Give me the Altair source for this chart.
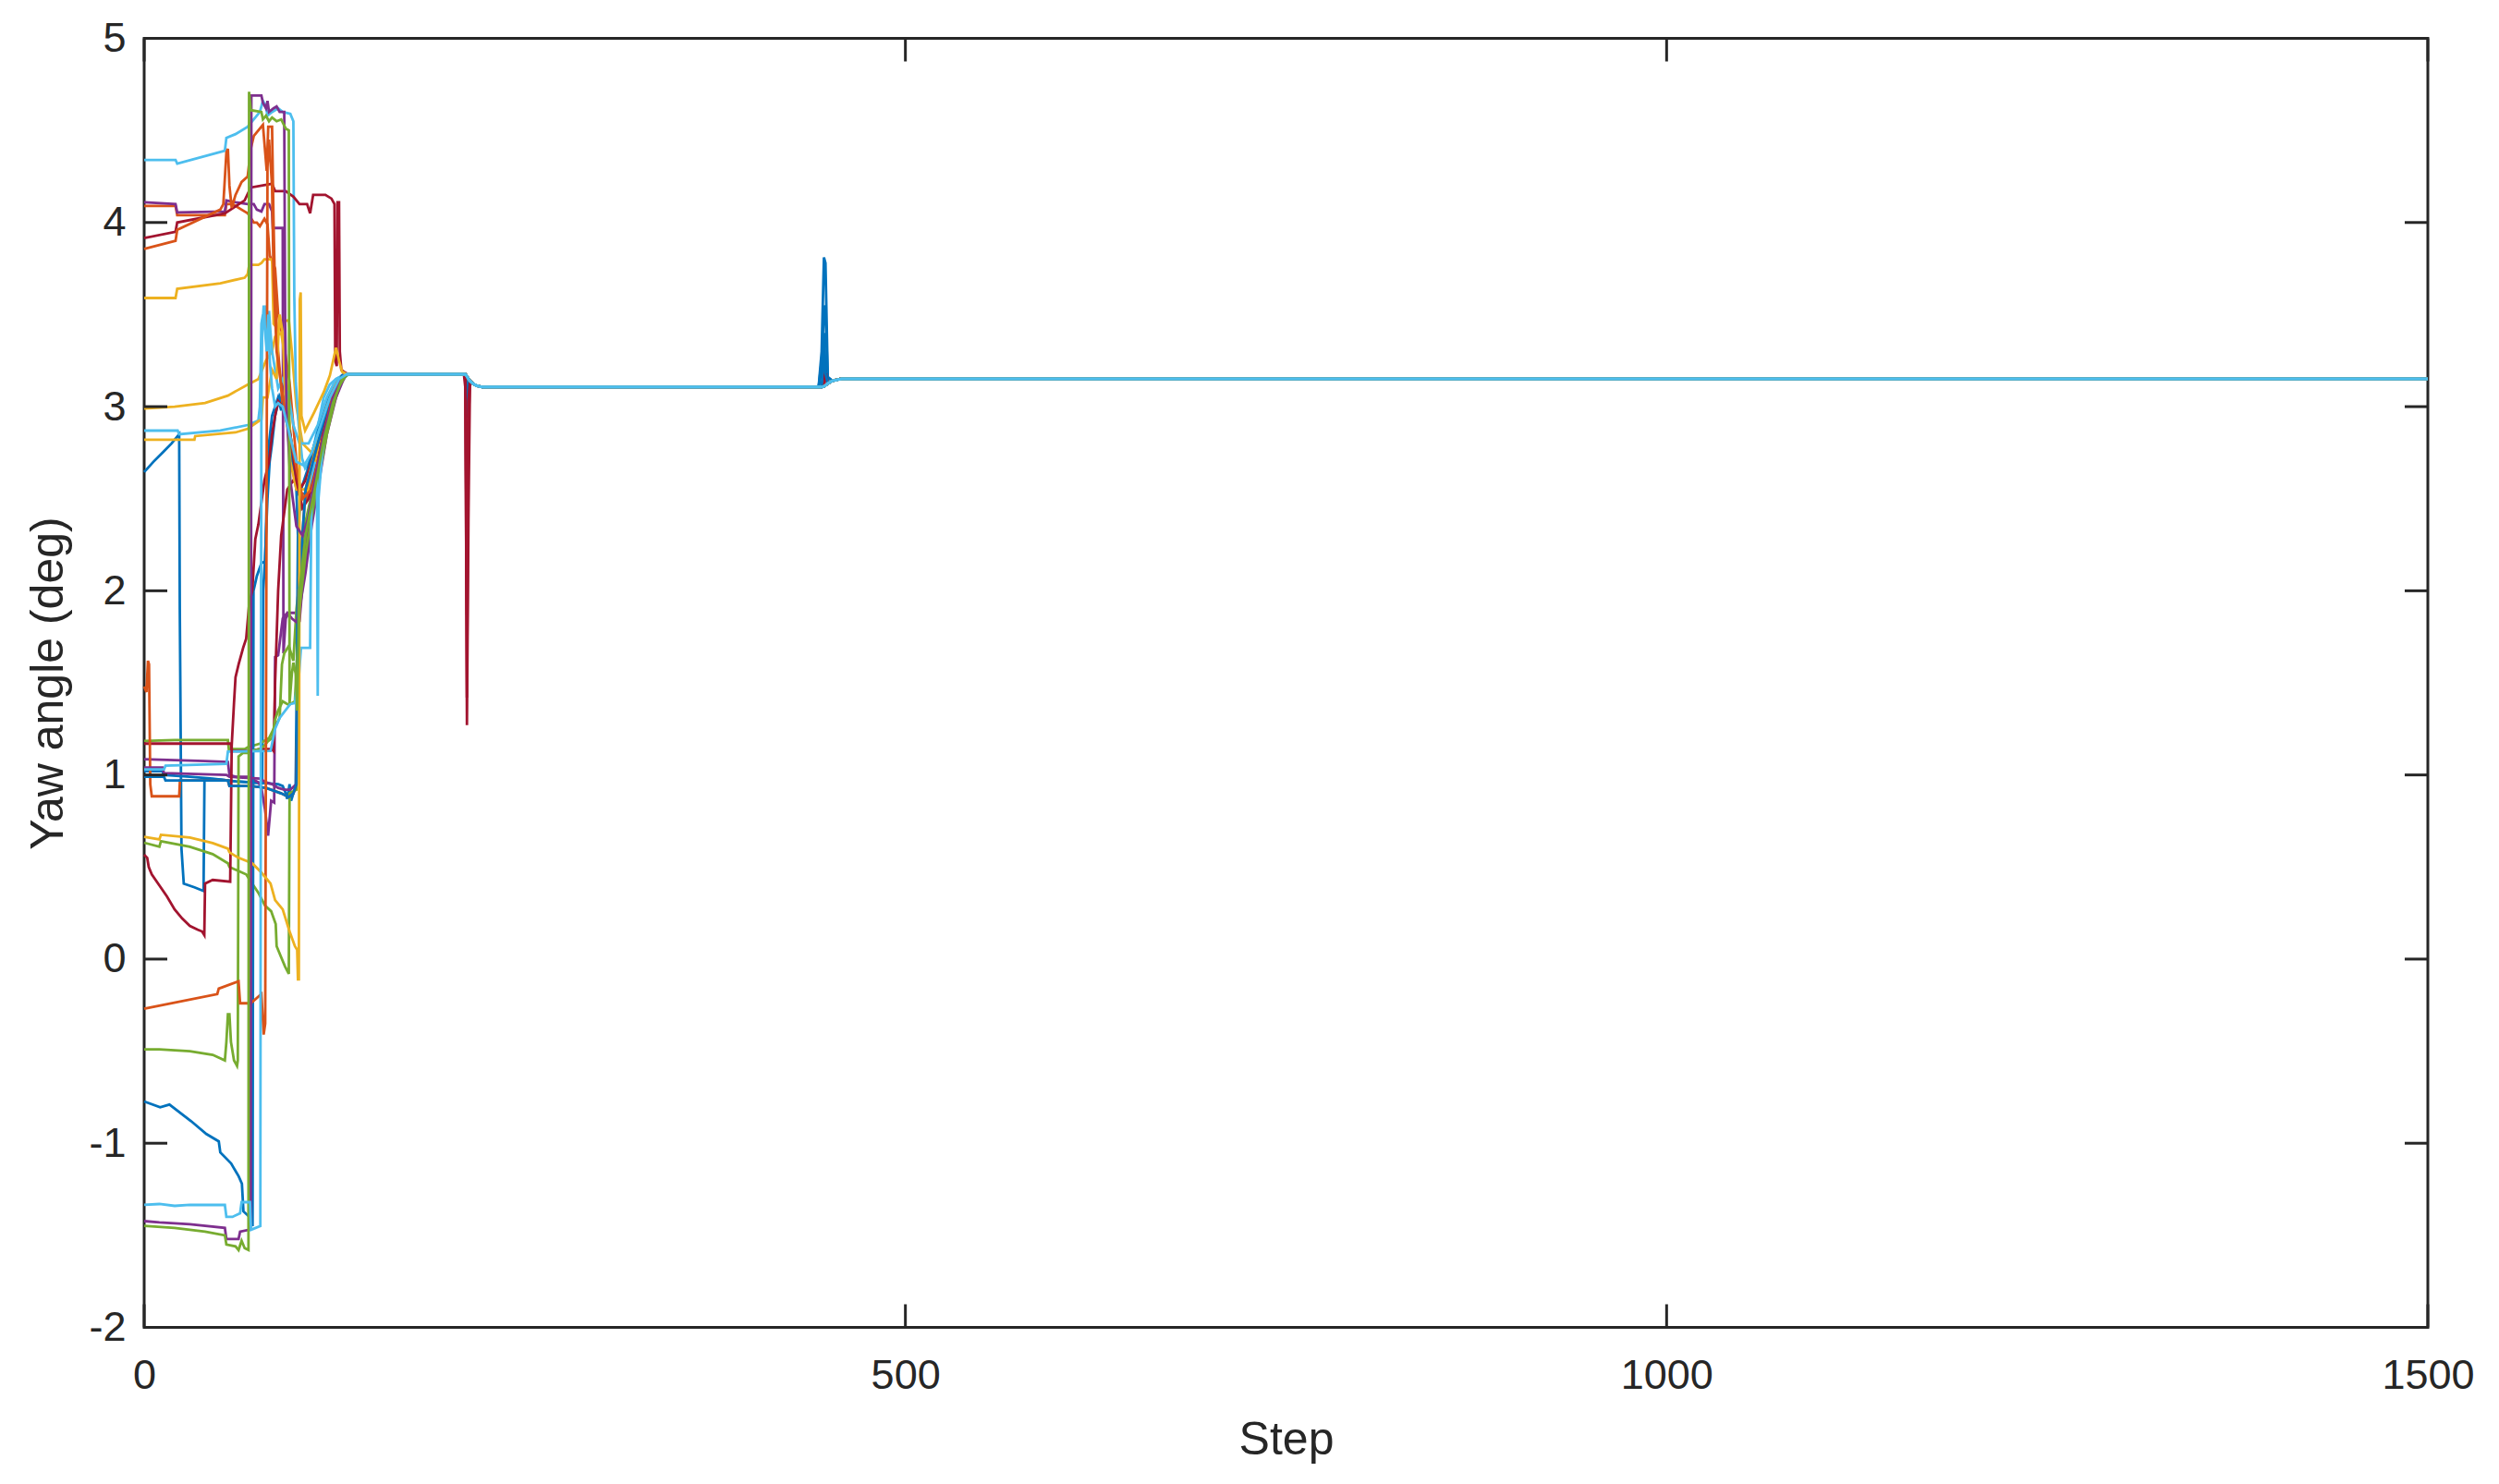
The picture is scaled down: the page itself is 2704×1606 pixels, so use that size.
import altair as alt
import pandas as pd

COLORS = ["#0072BD", "#D95319", "#EDB120", "#7E2F8E", "#77AC30", "#4DBEEE", "#A2142F"]

# ---- early (chaotic) part of each trajectory: (step, yaw) ----
B1 = [(0, 2.645), (6, 2.70), (12, 2.75), (18, 2.80), (23, 2.85), (23.4, 1.9), (24.5, 0.6), (26, 0.41),
      (33, 0.39), (39, 0.37), (39.6, 0.97), (50, 0.975), (60, 0.965), (70, 0.96), (77.5, 0.955),
      (78.2, 2.0), (79.3, 2.16), (81, 2.5), (82.4, 2.7), (84, 2.8), (86, 2.95), (88, 3.02), (89, 3.05),
      (90.5, 3.0), (91.5, 3.06), (93, 2.97), (94, 3.0), (96, 2.85), (98, 2.72), (100, 2.55), (103, 2.5),
      (107, 2.55), (112, 2.72), (118, 2.95), (124, 3.1), (130, 3.17), (134, 3.176)]
O1 = [(0, 4.09), (20.6, 4.09), (21.7, 4.04), (53, 4.04), (54, 4.10), (58, 4.10), (66, 4.06), (68, 4.05),
      (72, 4.0), (74, 4.0), (76, 3.98), (79, 4.02), (81, 3.99), (82.5, 3.82), (86, 3.75), (88, 3.5),
      (91, 3.38), (95.5, 3.13), (99, 2.8), (101, 2.6), (103.5, 2.45), (106, 2.48), (110, 2.62),
      (116, 2.85), (122, 3.05), (128, 3.15), (133, 3.176)]
Y1 = [(0, 3.59), (20.6, 3.59), (21.7, 3.64), (50, 3.67), (66, 3.70), (68, 3.72), (69, 3.77), (75, 3.77),
      (77, 3.78), (79, 3.80), (84, 3.80), (85, 3.45), (88, 3.42), (91, 3.46), (95, 3.47), (97, 3.3),
      (100, 3.0), (104, 2.8), (110, 2.75), (118, 2.95), (125, 3.12), (132, 3.176)]
P1 = [(0, 4.11), (20.6, 4.10), (21.7, 4.055), (53, 4.06), (54, 4.12), (60, 4.11), (68, 4.10), (72, 4.10),
      (74, 4.07), (77, 4.06), (79, 4.10), (82, 4.10), (84, 4.06), (84.5, 3.97), (91, 3.97), (91.5, 1.66),
      (93, 1.85), (95, 1.88), (100, 1.88), (102, 1.83), (104, 2.03), (108, 2.28), (112, 2.5), (116, 2.7),
      (121, 2.95), (126, 3.1), (131, 3.17), (134, 3.176)]
G1 = [(0, 1.184), (20, 1.19), (55, 1.19), (55.6, 1.14), (66, 1.14), (68, 1.15), (72, 1.16), (76, 1.17),
      (80, 1.19), (82, 1.2), (85, 1.25), (89, 1.31), (90.5, 1.6), (92, 1.66), (95, 1.7), (98, 1.62),
      (100, 1.9), (104, 2.2), (108, 2.4), (112, 2.55), (118, 2.8), (124, 3.0), (130, 3.15), (134, 3.176)]
L1 = [(0, 4.34), (20.6, 4.34), (21.7, 4.32), (53, 4.39), (54, 4.46), (60, 4.48), (68, 4.52), (74, 4.58),
      (76, 4.60), (78, 4.66), (80, 4.63), (81, 4.58), (84, 4.60), (88, 4.62), (91, 4.6), (96, 4.59),
      (98, 4.55), (98.6, 3.6), (99.6, 3.13), (101.5, 2.9), (103.7, 2.72), (105.7, 2.666), (109.8, 2.72),
      (113.8, 2.88), (117.9, 3.05), (121.9, 3.12), (126, 3.15), (132, 3.176)]
R1 = [(0, 3.915), (20.6, 3.95), (21.7, 4.0), (53, 4.05), (66, 4.12), (70, 4.19), (84, 4.21), (86, 4.17),
      (93, 4.17), (98, 4.14), (102, 4.10), (107, 4.10), (109, 4.05), (111, 4.15), (119, 4.15), (123, 4.13),
      (125, 4.10), (125.5, 3.25), (126.5, 3.22), (127, 4.11), (128, 4.11), (128.5, 3.3), (129.5, 3.2),
      (131, 3.19), (134, 3.176)]
B2 = [(0, 1.02), (12, 1.02), (13, 1.0), (30, 0.99), (45, 0.98), (60, 0.965), (70, 0.96), (80, 0.955),
      (88, 0.95), (91, 0.94), (93, 0.90), (94, 0.87), (95.5, 0.95), (96.5, 0.86), (98, 0.9), (99.5, 0.94),
      (100.2, 1.5), (101, 2.3), (103, 2.55), (107, 2.65), (112, 2.8), (118, 2.98), (124, 3.1), (130, 3.17),
      (134, 3.176)]
O2 = [(0, 3.857), (20.6, 3.9), (21.7, 3.96), (50, 4.07), (52, 4.1), (54, 4.38), (55, 4.40), (56, 4.2),
      (57.5, 4.08), (60, 4.15), (64, 4.22), (68, 4.25), (70, 4.4), (72, 4.47), (78, 4.53), (80.5, 4.28),
      (81.5, 4.52), (84, 4.52), (85, 4.0), (86, 3.6), (88, 3.3), (91, 3.0), (94, 2.9), (98, 2.7),
      (102, 2.55), (106, 2.5), (112, 2.7), (118, 2.95), (125, 3.12), (132, 3.176)]
Y2 = [(0, 2.99), (20, 3.0), (40, 3.02), (55, 3.06), (68, 3.12), (75, 3.15), (80, 3.25), (84, 3.30),
      (86, 3.38), (90, 3.40), (92, 3.3), (94, 3.1), (96, 2.85), (100, 2.6), (104, 2.5), (108, 2.55),
      (114, 2.75), (120, 2.95), (126, 3.1), (132, 3.176)]
P2 = [(0, 1.085), (20, 1.08), (40, 1.075), (55, 1.07), (56, 1.0), (60, 0.99), (68, 0.99), (75, 0.96),
      (77, 0.93), (79.4, 0.81), (81.4, 0.67), (83.4, 0.86), (85.4, 0.85), (86, 1.64), (88, 1.65),
      (91, 1.85), (94, 1.88), (97, 1.85), (100, 1.83), (102, 1.9), (106, 2.1), (110, 2.35), (115, 2.6),
      (120, 2.85), (126, 3.05), (132, 3.17), (134, 3.176)]
G2 = [(0, 0.632), (10, 0.61), (11, 0.64), (30, 0.61), (45, 0.57), (55, 0.52), (56, 0.50), (67, 0.46),
      (75, 0.36), (79.4, 0.29), (83.4, 0.26), (86.4, 0.19), (87, 0.07), (89.5, 0.02), (92.5, -0.04),
      (95, -0.08), (95.5, 0.9), (100, 0.92), (101.5, 2.0), (104, 2.3), (108, 2.45), (112, 2.6),
      (118, 2.85), (124, 3.03), (130, 3.15), (134, 3.176)]
L2 = [(0, 2.87), (22, 2.87), (23, 2.85), (50, 2.87), (68, 2.9), (75, 2.925), (76, 3.0), (77, 3.45),
      (78, 3.5), (79, 3.42), (80, 3.55), (81, 3.35), (82, 3.52), (83, 3.4), (84, 3.3), (86, 3.2),
      (88, 3.1), (91, 3.15), (95, 3.05), (98, 2.9), (102, 2.8), (108, 2.8), (114, 2.9), (120, 3.05),
      (126, 3.15), (132, 3.176)]
R2 = [(0, 1.17), (20, 1.17), (55, 1.17), (57, 1.17), (57.5, 1.13), (60, 1.13), (70, 1.13), (76, 1.14),
      (84, 1.14), (85, 1.13), (86, 1.5), (88, 2.0), (90, 2.3), (94, 2.55), (98, 2.6), (102, 2.55),
      (106, 2.6), (112, 2.75), (118, 2.9), (124, 3.05), (130, 3.16), (133, 3.176)]
B3 = [(0, -0.773), (10.5, -0.805), (16.6, -0.79), (30.8, -0.88), (40.9, -0.95), (49, -0.99), (50, -1.05),
      (57.1, -1.11), (62.1, -1.18), (64.2, -1.22), (65.2, -1.37), (69.2, -1.40), (71.2, -1.45),
      (71.8, 2.0), (74, 2.08), (77, 2.15), (79.5, 2.16), (80.5, 2.5), (82, 2.8), (84, 2.95), (86, 3.0),
      (88, 3.05), (90, 2.98), (92, 3.04), (94, 2.95), (96, 2.82), (98, 2.65), (100, 2.55), (101, 2.3),
      (102, 2.1), (105, 2.25), (110, 2.5), (116, 2.78), (122, 3.0), (128, 3.13), (134, 3.176)]
O3 = [(0, 1.48), (1.5, 1.45), (2.5, 1.62), (3.2, 1.6), (4, 0.95), (5, 0.884), (23, 0.884), (23.5, 0.97),
      (55, 0.97), (56, 0.94), (70, 0.94), (80, 0.93), (90, 0.9), (95, 0.88), (98, 0.9), (100, 0.95),
      (101.5, 2.0), (106, 2.55), (114, 2.8), (122, 3.05), (130, 3.17), (133, 3.176)]
Y3 = [(0, 2.82), (33, 2.82), (33.5, 2.84), (60, 2.86), (68, 2.88), (75, 2.92), (77, 2.93), (78, 3.05),
      (81, 3.05), (84, 3.2), (87, 3.15), (88.5, 3.45), (89, 3.5), (91, 3.4), (93, 3.0), (96, 2.7),
      (100, 2.55), (106, 2.55), (112, 2.75), (120, 3.0), (126, 3.12), (132, 3.176)]
P3 = [(0, 1.04), (12, 1.04), (13, 1.01), (54, 1.0), (56, 0.99), (76, 0.98), (80, 0.96), (84, 0.95),
      (88, 0.93), (92, 0.92), (96, 0.92), (100, 0.95), (101.5, 1.8), (104, 2.1), (110, 2.45), (118, 2.8),
      (126, 3.08), (133, 3.176)]
G3 = [(0, -0.49), (10, -0.49), (30, -0.5), (45, -0.52), (53, -0.55), (54, -0.45), (55, -0.30),
      (56, -0.30), (57, -0.45), (59, -0.55), (61, -0.58), (61.5, -0.55), (62, 1.10), (65, 1.12),
      (68, 1.12), (70, 1.13), (76, 1.14), (79, 1.16), (81, 1.18), (84, 1.2), (86, 1.3), (88, 1.35),
      (91, 1.4), (95, 1.38), (99, 1.4), (102, 1.9), (106, 2.2), (112, 2.5), (120, 2.85), (127, 3.1),
      (133, 3.176)]
L3 = [(0, 1.03), (13, 1.03), (14, 1.05), (54, 1.06), (55, 1.127), (83, 1.13), (86, 1.25), (89, 1.31),
      (96, 1.385), (99, 1.39), (100.5, 1.5), (101.5, 1.52), (103, 1.69), (109, 1.69), (110, 2.6),
      (112, 2.7), (113.5, 2.6), (114, 1.43), (114.5, 2.5), (118, 2.85), (124, 3.05), (130, 3.16),
      (133, 3.176)]
R3 = [(0, 0.567), (2, 0.55), (3, 0.50), (5, 0.46), (10, 0.40), (15, 0.34), (20, 0.27), (25, 0.22),
      (30, 0.18), (35, 0.16), (38, 0.15), (39.5, 0.13), (40, 0.41), (45, 0.43), (56.5, 0.42),
      (57.5, 1.16), (59, 1.39), (60, 1.53), (62, 1.6), (65, 1.69), (67, 1.74), (69, 1.93), (71, 2.0),
      (73, 2.28), (75, 2.36), (77, 2.48), (79, 2.6), (82, 2.7), (84, 2.85), (86, 2.95), (88, 3.03),
      (91, 3.0), (96, 2.85), (100, 2.6), (104, 2.45), (108, 2.5), (114, 2.7), (120, 2.95), (126, 3.1),
      (132, 3.176)]
B4 = [(0, 0.99), (13, 0.99), (14, 0.97), (55, 0.97), (56, 0.94), (70, 0.94), (80, 0.93), (90, 0.9),
      (95, 0.88), (98, 0.9), (100, 0.95), (101.5, 2.0), (106, 2.55), (114, 2.8), (122, 3.05), (130, 3.17),
      (133, 3.176)]
O4 = [(0, -0.27), (48, -0.19), (49, -0.16), (62, -0.12), (63, -0.24), (70, -0.24), (77, -0.19),
      (78.5, -0.41), (79.5, -0.35), (80.3, 2.15), (81, 4.3), (82, 4.45), (84, 4.2), (85, 3.7), (87, 3.3),
      (92, 3.0), (98, 2.75), (104, 2.5), (110, 2.55), (118, 2.85), (125, 3.1), (132, 3.176)]
Y4 = [(0, 0.664), (10, 0.65), (11, 0.675), (30, 0.66), (45, 0.63), (55, 0.60), (56, 0.58), (62, 0.55),
      (71, 0.52), (77, 0.47), (83, 0.41), (86, 0.32), (91, 0.27), (95.5, 0.15), (99, 0.07), (100.5, 0.05),
      (101, -0.11), (101.6, -0.11), (102.2, 3.58), (102.8, 3.62), (103.3, 2.95), (105.7, 2.87),
      (111.7, 2.97), (118, 3.08), (122, 3.17), (126, 3.32), (128, 3.25), (130, 3.19), (133, 3.176)]
P4 = [(0, -1.423), (10, -1.43), (30, -1.44), (53, -1.46), (54, -1.52), (62, -1.52), (63, -1.48),
      (69, -1.47), (70, -1.45), (70.4, 4.69), (77, 4.69), (78, 4.65), (80, 4.62), (81, 4.66), (82, 4.6),
      (85, 4.62), (87, 4.63), (89, 4.6), (92, 4.6), (92.6, 3.45), (93.5, 3.0), (96, 2.6), (100, 2.35),
      (104, 2.3), (108, 2.4), (112, 2.6), (118, 2.85), (124, 3.05), (130, 3.16), (134, 3.176)]
G4 = [(0, -1.449), (20, -1.46), (40, -1.48), (53, -1.50), (54, -1.55), (60, -1.56), (62, -1.58),
      (64, -1.53), (66, -1.57), (68.5, -1.58), (68.9, 4.71), (70, 4.61), (77, 4.60), (78, 4.56),
      (80, 4.58), (82, 4.55), (84, 4.57), (87, 4.55), (90, 4.56), (93, 4.51), (95, 4.50), (95.5, 1.39),
      (97, 1.55), (98, 1.61), (99.5, 1.55), (100.5, 1.35), (102, 2.0), (106, 2.3), (112, 2.55),
      (118, 2.82), (124, 3.02), (130, 3.15), (134, 3.176)]
L4 = [(0, -1.335), (10, -1.33), (20, -1.34), (30, -1.335), (53, -1.335), (54, -1.40), (58, -1.40),
      (63, -1.38), (64, -1.32), (69.5, -1.32), (70.2, -1.47), (76.3, -1.45), (76.6, 1.0), (77, 3.0),
      (77.5, 3.40), (78.5, 3.55), (79.5, 3.4), (80.5, 3.3), (81.5, 3.5), (82.5, 3.25), (84, 3.1),
      (86, 3.0), (88, 3.02), (91, 3.0), (94, 2.9), (97, 2.8), (100, 2.7), (105, 2.68), (110, 2.75),
      (116, 2.9), (122, 3.05), (128, 3.15), (133, 3.176)]

# drawing order (later on top), colours cycle through COLORS
ORDER = ["B1", "O1", "Y1", "P1", "G1", "L1", "R1",
         "B2", "O2", "Y2", "P2", "G2", "L2", "R2",
         "B3", "O3", "Y3", "P3", "G3", "L3", "R3",
         "B4", "O4", "Y4", "P4", "G4", "L4"]
HEADS = {"B1": B1, "O1": O1, "Y1": Y1, "P1": P1, "G1": G1, "L1": L1, "R1": R1,
         "B2": B2, "O2": O2, "Y2": Y2, "P2": P2, "G2": G2, "L2": L2, "R2": R2,
         "B3": B3, "O3": O3, "Y3": Y3, "P3": P3, "G3": G3, "L3": L3, "R3": R3,
         "B4": B4, "O4": O4, "Y4": Y4, "P4": P4, "G4": G4, "L4": L4}

# ---- settled part shared by all runs ----
tail_steps = [135, 210, 211, 212, 213, 214, 216, 218, 222, 443, 445, 446.5, 447.5, 449, 452, 458, 1500]
tail_base = [3.176, 3.176, 3.176, 3.165, 3.15, 3.14, 3.125, 3.115, 3.106, 3.106, 3.106, 3.11, 3.115,
             3.125, 3.14, 3.151, 3.151]
tail_over = {
    "R1": {212: 1.27, 213: 2.39, 447.5: 3.22},
    "R2": {211: 3.1, 212: 1.42, 213: 2.91, 447.5: 3.2},
    "R3": {212: 1.87, 213: 3.03, 447.5: 3.18},
    "B1": {212: 2.94, 445: 3.3, 446.5: 3.81, 447.5: 3.78, 449: 3.16},
    "B2": {212: 3.03, 445: 3.2, 446.5: 3.55, 447.5: 3.5, 449: 3.16},
    "B3": {445: 3.25, 446.5: 3.4, 447.5: 3.2},
    "B4": {446.5: 3.3, 447.5: 3.18},
}

xticks = [0, 500, 1000, 1500]
yticks = [-2, -1, 0, 1, 2, 3, 4, 5]

rows = []
ids = []
for i, name in enumerate(ORDER):
    sid = f"s{i + 1:02d}"
    ids.append(sid)
    for s, v in HEADS[name]:
        rows.append({"id": sid, "step": s, "value": v})
    ov = tail_over.get(name, {})
    for s, v in zip(tail_steps, tail_base):
        rows.append({"id": sid, "step": s, "value": ov.get(s, v)})
df = pd.DataFrame(rows)

W, H = 2471, 1395
TL = 25
INK = "#262626"
FONT = "Liberation Sans"

xscale = alt.Scale(domain=[0, 1500], nice=False, zero=False)
yscale = alt.Scale(domain=[-2, 5], nice=False, zero=False)
xaxis = alt.Axis(values=xticks, title="Step", labelPadding=30, labelFlush=False,
                 titleY=136.5, titleBaseline="alphabetic", labelExpr="'' + datum.value")
yaxis = alt.Axis(values=yticks, title="Yaw angle (deg)", labelPadding=20, labelFlush=False,
                 titleX=-89, titleY=H / 2, titleAngle=-90, titleBaseline="alphabetic",
                 labelExpr="'' + datum.value")

lines = alt.Chart(df).mark_line(strokeWidth=2.8).encode(
    x=alt.X("step:Q", scale=xscale, axis=xaxis, title="Step"),
    y=alt.Y("value:Q", scale=yscale, axis=yaxis, title="Yaw angle (deg)"),
    color=alt.Color("id:N", scale=alt.Scale(domain=ids, range=[COLORS[i % 7] for i in range(len(ids))]),
                    legend=None),
)
# last run drawn once more over the settled part so that it shows cleanly on top
last_id = ids[-1]
settled = alt.Chart(df).transform_filter(
    f"datum.id == '{last_id}' && datum.step >= 133"
).mark_line(strokeWidth=3.2, color=COLORS[(len(ids) - 1) % 7]).encode(
    x=alt.X("step:Q", scale=xscale, axis=xaxis, title="Step"),
    y=alt.Y("value:Q", scale=yscale, axis=yaxis, title="Yaw angle (deg)"),
)

xt = pd.DataFrame({"step": xticks})
yt = pd.DataFrame({"value": yticks})
tick_style = dict(color=INK, strokeWidth=3)
bottom = alt.Chart(xt).mark_rule(**tick_style).encode(
    x=alt.X("step:Q", scale=xscale, axis=xaxis, title="Step"), y=alt.value(H), y2=alt.value(H - TL))
top = alt.Chart(xt).mark_rule(**tick_style).encode(
    x=alt.X("step:Q", scale=xscale, axis=xaxis, title="Step"), y=alt.value(0), y2=alt.value(TL))
left = alt.Chart(yt).mark_rule(**tick_style).encode(
    y=alt.Y("value:Q", scale=yscale, axis=yaxis, title="Yaw angle (deg)"), x=alt.value(0), x2=alt.value(TL))
right = alt.Chart(yt).mark_rule(**tick_style).encode(
    y=alt.Y("value:Q", scale=yscale, axis=yaxis, title="Yaw angle (deg)"), x=alt.value(W), x2=alt.value(W - TL))

chart = alt.layer(lines, settled, bottom, top, left, right).properties(
    width=W, height=H,
    padding={"left": 148, "top": 33.5, "right": 60, "bottom": 150},
    autosize=alt.AutoSizeParams(type="none"),
).configure_view(
    stroke=INK, strokeWidth=3
).configure_axis(
    grid=False, domain=False, ticks=False, tickSize=0,
    labelFont=FONT, labelFontSize=45, labelColor=INK,
    titleFont=FONT, titleFontSize=50, titleFontWeight="normal", titleColor=INK,
)

chart.save("out.html", embed_options={"renderer": "svg", "actions": False})
